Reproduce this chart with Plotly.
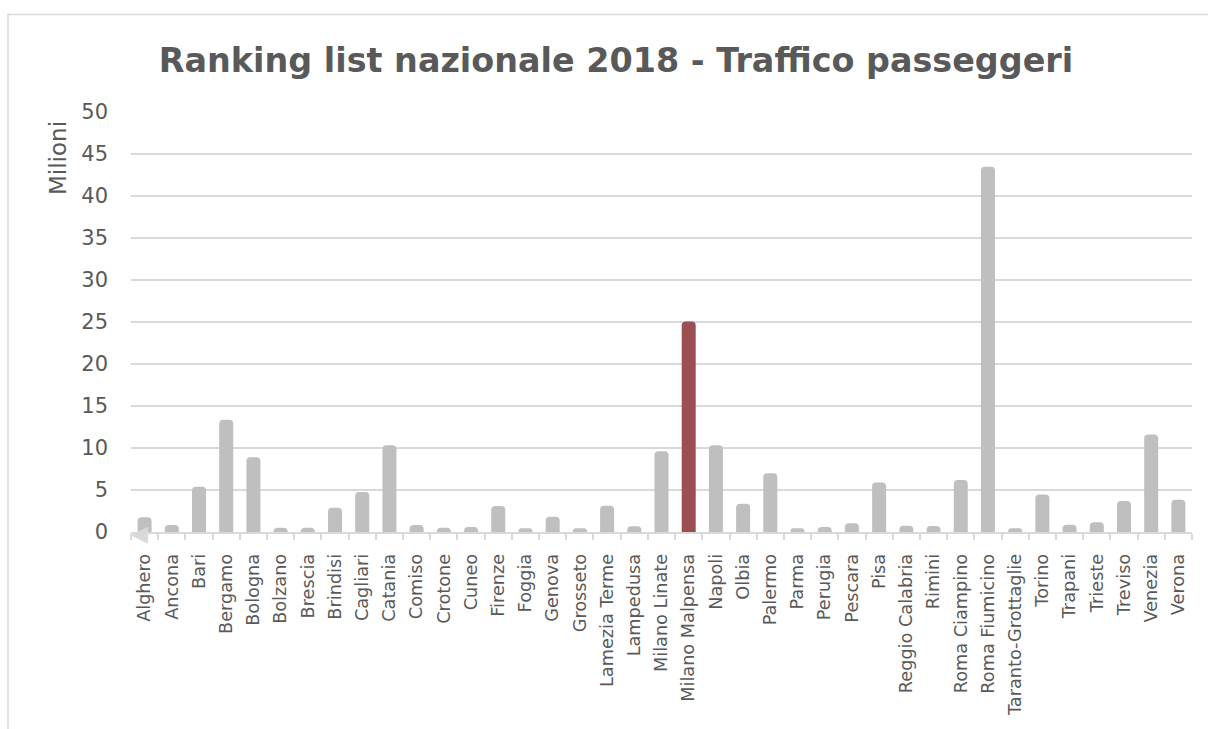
import plotly.graph_objects as go

# Aeroporti italiani, traffico passeggeri 2018 (milioni)
aeroporti = [
    "Alghero", "Ancona", "Bari", "Bergamo", "Bologna", "Bolzano", "Brescia",
    "Brindisi", "Cagliari", "Catania", "Comiso", "Crotone", "Cuneo", "Firenze",
    "Foggia", "Genova", "Grosseto", "Lamezia Terme", "Lampedusa",
    "Milano Linate", "Milano Malpensa", "Napoli", "Olbia", "Palermo", "Parma",
    "Perugia", "Pescara", "Pisa", "Reggio Calabria", "Rimini", "Roma Ciampino",
    "Roma Fiumicino", "Taranto-Grottaglie", "Torino", "Trapani", "Trieste",
    "Treviso", "Venezia", "Verona",
]
passeggeri = [
    1.75, 0.83, 5.4, 13.35, 8.9, 0.5, 0.5,
    2.9, 4.77, 10.33, 0.83, 0.5, 0.6, 3.1,
    0.44, 1.82, 0.44, 3.13, 0.68,
    9.62, 25.07, 10.33, 3.37, 7.0, 0.44,
    0.6, 1.04, 5.88, 0.75, 0.7, 6.2,
    43.47, 0.44, 4.45, 0.87, 1.16,
    3.7, 11.6, 3.85,
]
evidenziato = "Milano Malpensa"
y_ticks = [0, 5, 10, 15, 20, 25, 30, 35, 40, 45, 50]

GRIGIO = "#BFBFBF"
ROSSO = "#9C4F53"
TESTO = "#595959"
LINEE = "#D9D9D9"
FONT = "DejaVu Sans"

colori = [ROSSO if a == evidenziato else GRIGIO for a in aeroporti]

fig = go.Figure(
    go.Bar(
        x=aeroporti,
        y=passeggeri,
        marker=dict(color=colori, cornerradius=4, line=dict(width=0)),
        hoverinfo="x+y",
    )
)

W, H = 1208, 729
L, R, T, B = 131, 16, 112, 197
pw, ph = W - L - R, H - T - B


def px_x(x):
    return (x - L) / pw


def px_y(y):
    return (H - B - y) / ph


fig.update_layout(
    width=W,
    height=H,
    margin=dict(l=L, r=R, t=T, b=B, pad=0),
    paper_bgcolor="white",
    plot_bgcolor="white",
    bargap=0.485,
    showlegend=False,
    font=dict(family=FONT, color=TESTO),
    title=dict(
        text="<b>Ranking list nazionale 2018 - Traffico passeggeri</b>",
        font=dict(family=FONT, size=33.4, color=TESTO),
        x=(616 / W),
        xanchor="center",
        y=1 - 60 / H,
        yanchor="middle",
    ),
    xaxis=dict(
        type="category",
        tickangle=-90,
        tickfont=dict(family=FONT, size=17.7, color=TESTO),
        showgrid=False,
        showline=True,
        linecolor=LINEE,
        linewidth=1.5,
        ticks="outside",
        tickson="boundaries",
        ticklen=6,
        tickcolor=LINEE,
        tickwidth=1.5,
        ticklabelstandoff=13,
        fixedrange=True,
    ),
    yaxis=dict(
        range=[0, 50],
        tickvals=y_ticks,
        tickfont=dict(family=FONT, size=21, color=TESTO),
        showgrid=True,
        gridcolor=LINEE,
        gridwidth=1.5,
        zeroline=False,
        showline=False,
        ticks="",
        ticklabelstandoff=22,
        fixedrange=True,
    ),
    shapes=[
        dict(
            type="rect",
            xref="paper",
            yref="paper",
            x0=px_x(8),
            x1=px_x(1220),
            y0=px_y(760),
            y1=px_y(14.5),
            line=dict(color=LINEE, width=1.5),
            fillcolor="rgba(0,0,0,0)",
            layer="below",
        )
    ],
    annotations=[
        dict(
            text="Milioni",
            xref="paper",
            yref="paper",
            x=px_x(58),
            y=px_y(158),
            xanchor="center",
            yanchor="middle",
            textangle=-90,
            showarrow=False,
            font=dict(family=FONT, size=23, color=TESTO),
        ),
        dict(
            text="◀",
            xref="paper",
            yref="paper",
            x=px_x(139),
            y=px_y(533),
            xanchor="center",
            yanchor="middle",
            showarrow=False,
            font=dict(family=FONT, size=22, color=LINEE),
        ),
    ],
)

fig.write_html("out.html")
